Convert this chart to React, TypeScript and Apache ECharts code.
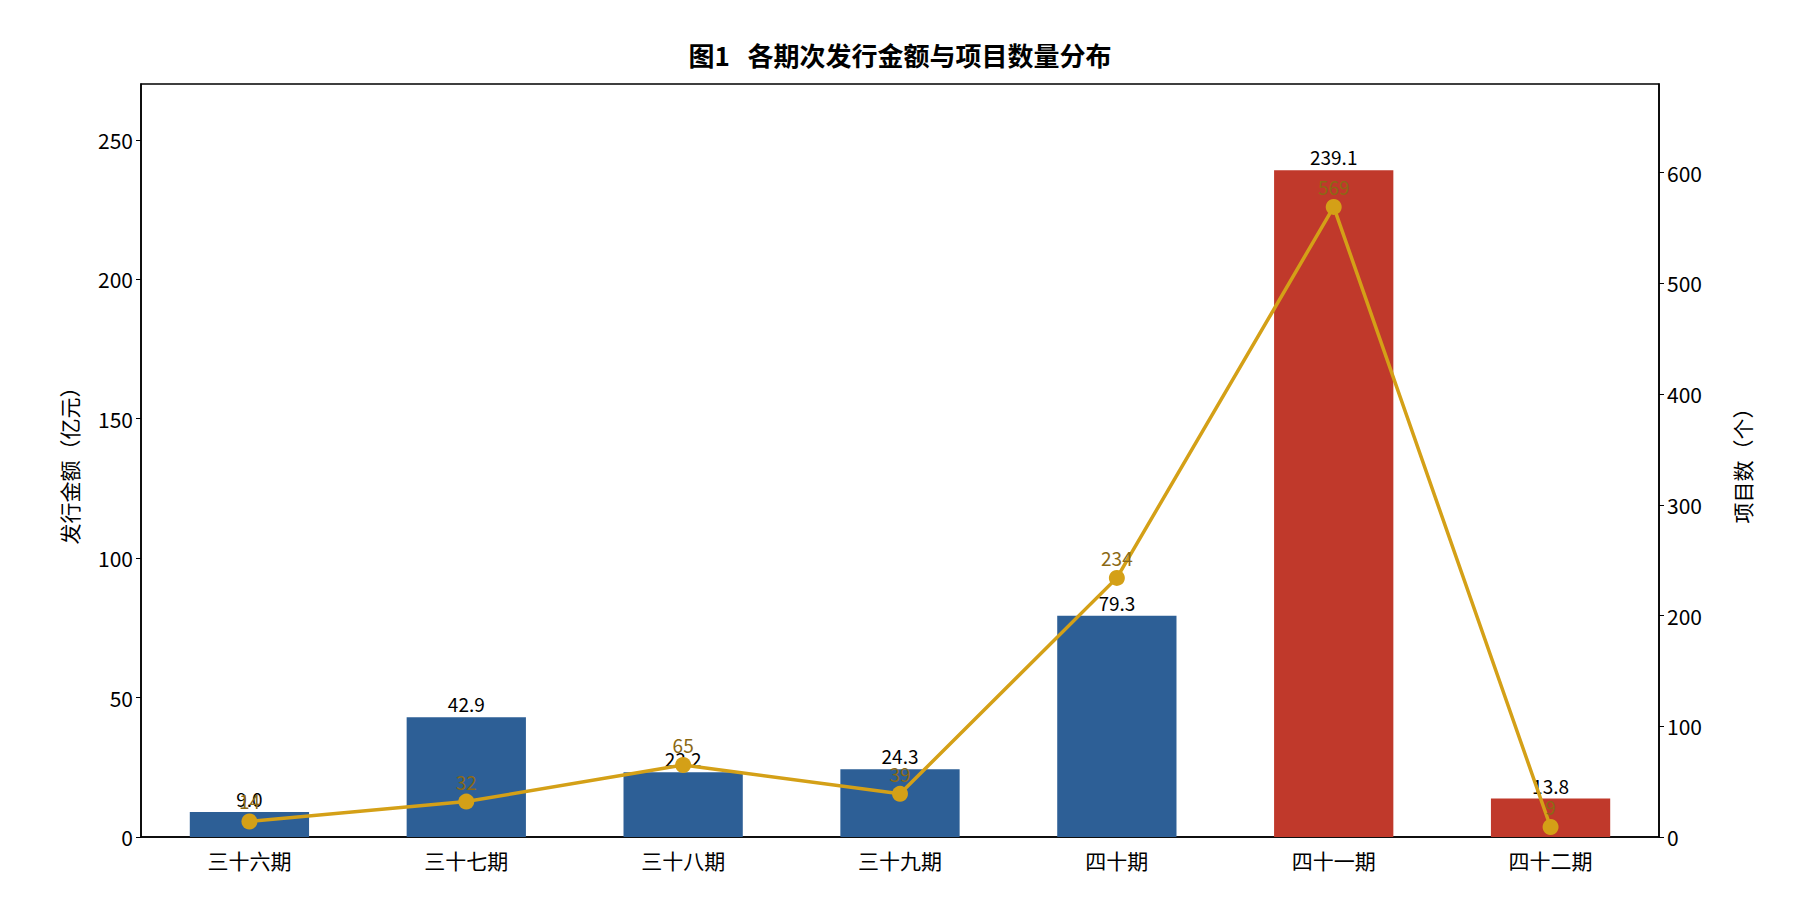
import React, { useEffect, useRef } from "react";
import * as echarts from "echarts";

const categories = ["三十六期", "三十七期", "三十八期", "三十九期", "四十期", "四十一期", "四十二期"];
const amounts = [9.0, 42.9, 23.2, 24.3, 79.3, 239.1, 13.8];
const counts = [14, 32, 65, 39, 234, 569, 9];
const barColors = ["#2d5f96", "#2d5f96", "#2d5f96", "#2d5f96", "#2d5f96", "#c0392b", "#c0392b"];

const FONT = "Noto Sans CJK SC";

export default function App() {
  const ref = useRef<HTMLDivElement>(null);
  useEffect(() => {
    const chart = echarts.init(ref.current!, undefined, { renderer: "svg" });
    chart.setOption({
      animation: false,
      textStyle: { fontFamily: FONT },
      title: {
        text: "图1   各期次发行金额与项目数量分布",
        left: "center",
        top: 28,
        textStyle: { fontFamily: FONT, fontSize: 26, fontWeight: "bold", color: "#000" },
      },
      grid: { left: 133, right: 133, top: 76, bottom: 75, show: true, borderColor: "#000", borderWidth: 1.5, backgroundColor: "transparent" },
      xAxis: {
        type: "category",
        data: categories,
        axisLine: { lineStyle: { color: "#000", width: 1.5 } },
        axisTick: { alignWithLabel: true, lineStyle: { color: "#000" } },
        axisLabel: { color: "#000", fontSize: 21, margin: 12 },
      },
      yAxis: [
        {
          type: "value",
          min: 0,
          max: 270,
          interval: 50,
          name: "发行金额（亿元）",
          nameLocation: "middle",
          nameGap: 62,
          nameTextStyle: { fontSize: 21, color: "#000" },
          splitLine: { show: false },
          axisLine: { show: true, lineStyle: { color: "#000", width: 1.5 } },
          axisTick: { show: true, lineStyle: { color: "#000" } },
          axisLabel: { color: "#000", fontSize: 21, showMaxLabel: false },
        },
        {
          type: "value",
          min: 0,
          max: 680,
          interval: 100,
          name: "项目数（个）",
          nameLocation: "middle",
          nameGap: 72,
          nameRotate: 90,
          nameTextStyle: { fontSize: 21, color: "#000" },
          splitLine: { show: false },
          axisLine: { show: true, lineStyle: { color: "#000", width: 1.5 } },
          axisTick: { show: true, lineStyle: { color: "#000" } },
          axisLabel: { color: "#000", fontSize: 21, showMaxLabel: false },
        },
      ],
      series: [
        {
          type: "bar",
          yAxisIndex: 0,
          barWidth: "55%",
          data: amounts.map((v, i) => ({ value: v, itemStyle: { color: barColors[i] } })),
          label: {
            show: true,
            position: "top",
            distance: 4,
            color: "#000",
            fontSize: 19,
            formatter: (p: any) => p.value.toFixed(1),
          },
        },
        {
          type: "line",
          yAxisIndex: 1,
          data: counts,
          symbol: "circle",
          symbolSize: 16,
          lineStyle: { color: "#d4a017", width: 3.5 },
          itemStyle: { color: "#d4a017" },
          label: { show: true, position: "top", distance: 3, color: "#8b6914", fontSize: 19 },
          z: 5,
        },
      ],
    });
    return () => chart.dispose();
  }, []);
  return <div ref={ref} style={{ width: 1784, height: 904, background: "#fff" }} />;
}
